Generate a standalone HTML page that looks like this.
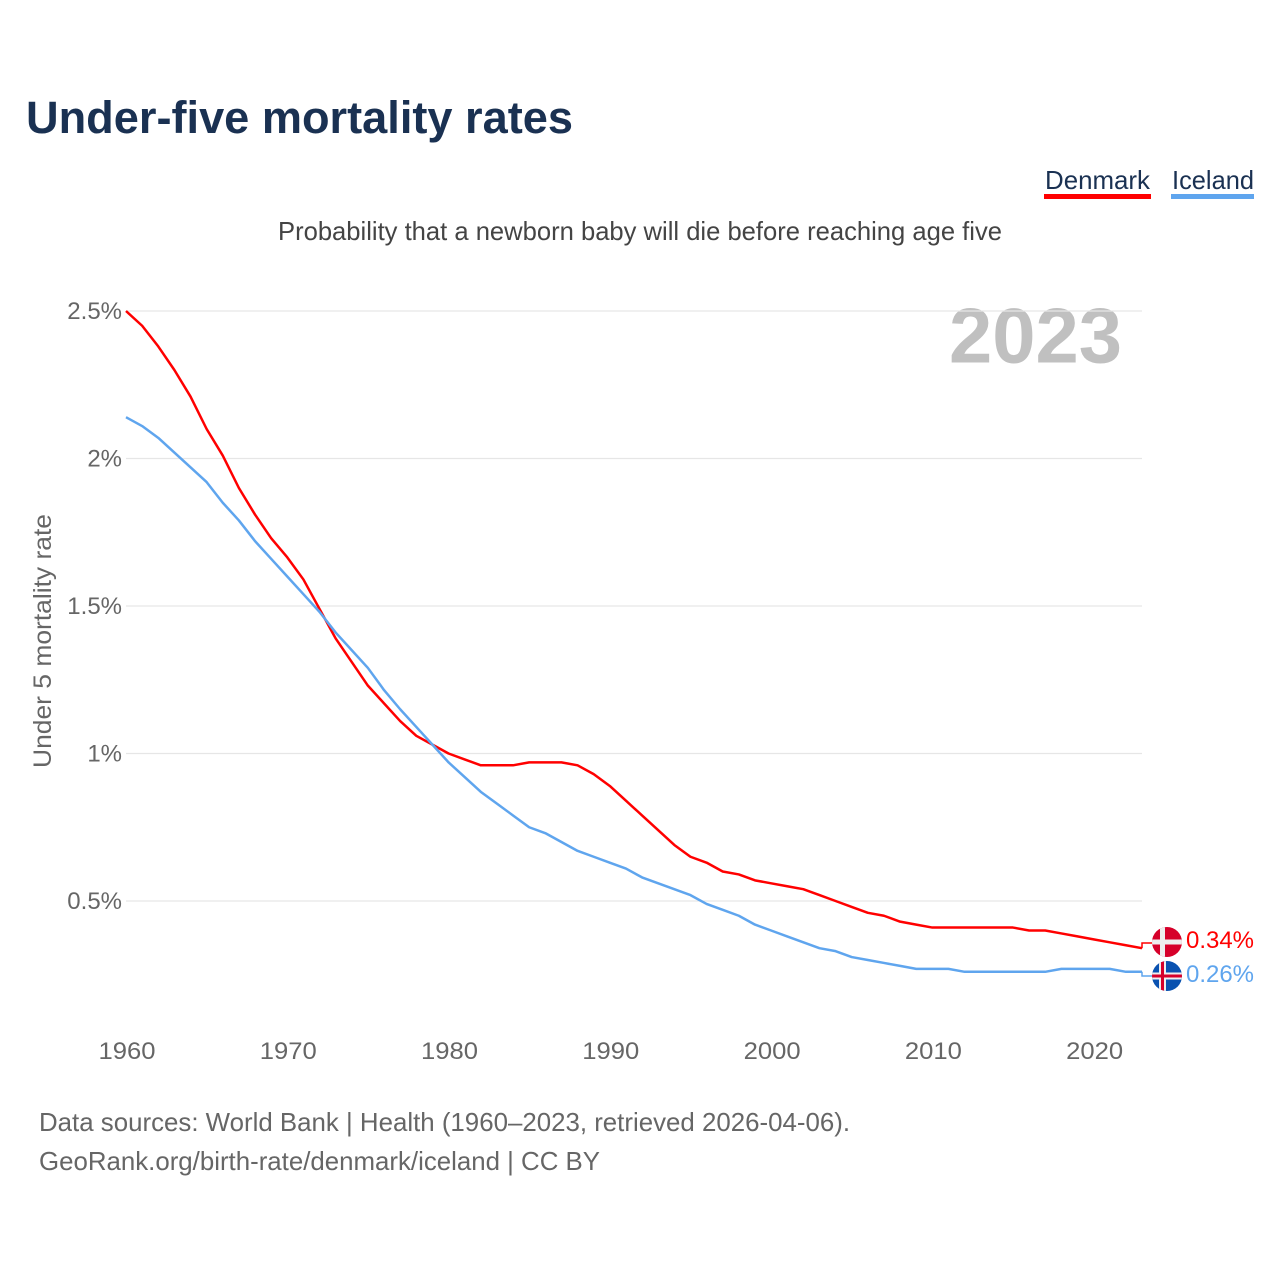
<!DOCTYPE html>
<html lang="en">
<head>
<meta charset="utf-8">
<title>Under-five mortality rates</title>
<style>
html,body{margin:0;padding:0;background:#fff;}
body{width:1280px;height:1280px;overflow:hidden;}
svg{display:block;font-family:"Liberation Sans",sans-serif;}
</style>
</head>
<body>
<svg id="chart" width="1280" height="1280" viewBox="0 0 1280 1280" xmlns="http://www.w3.org/2000/svg">
  <defs>
    <clipPath id="clip-dk"><circle cx="1167" cy="942" r="15"/></clipPath>
    <clipPath id="clip-is"><circle cx="1167" cy="976" r="15"/></clipPath>
  </defs>
  <text x="26" y="133" font-size="45" font-weight="700" fill="#1a3152" textLength="547" lengthAdjust="spacingAndGlyphs">Under-five mortality rates</text>
  <text x="278" y="240" font-size="26" fill="#444444" textLength="724" lengthAdjust="spacingAndGlyphs">Probability that a newborn baby will die before reaching age five</text>

  <g>
    <text x="1045" y="189" font-size="26" fill="#1a3152" textLength="105" lengthAdjust="spacingAndGlyphs">Denmark</text>
    <rect x="1044" y="194" width="107" height="5" fill="#ff0000"/>
  </g>
  <g>
    <text x="1172" y="189" font-size="26" fill="#1a3152" textLength="82" lengthAdjust="spacingAndGlyphs">Iceland</text>
    <rect x="1171" y="194" width="83" height="5" fill="#5fa5ee"/>
  </g>

  <text x="949" y="362.500" font-size="78" font-weight="700" fill="#c0c0c0" textLength="173" lengthAdjust="spacingAndGlyphs">2023</text>
  <text transform="translate(51,768) rotate(-90)" font-size="25" fill="#666666" textLength="254" lengthAdjust="spacingAndGlyphs">Under 5 mortality rate</text>

  <g id="grid"></g>
  <g id="y-ticks"></g>
  <g id="x-ticks"></g>
  <g id="series"></g>

  <g clip-path="url(#clip-dk)">
    <rect x="1152" y="927" width="30" height="30" fill="#d6002a"/>
    <rect x="1160" y="927" width="5" height="30" fill="#eeeeee"/>
    <rect x="1152" y="939.500" width="30" height="5" fill="#eeeeee"/>
  </g>
  <g clip-path="url(#clip-is)">
    <rect x="1152" y="961" width="30" height="30" fill="#0a52b0"/>
    <rect x="1159" y="961" width="7" height="30" fill="#eeeeee"/>
    <rect x="1152" y="972.500" width="30" height="7" fill="#eeeeee"/>
    <rect x="1161" y="961" width="3" height="30" fill="#d6002a"/>
    <rect x="1152" y="974.500" width="30" height="3" fill="#d6002a"/>
  </g>
  <text x="1186" y="948" font-size="24.500" fill="#ff0000" textLength="68" lengthAdjust="spacingAndGlyphs">0.34%</text>
  <text x="1186" y="982" font-size="24.500" fill="#5fa5ee" textLength="68" lengthAdjust="spacingAndGlyphs">0.26%</text>

  <text x="39" y="1131" font-size="26" fill="#666666" textLength="811" lengthAdjust="spacingAndGlyphs">Data sources: World Bank | Health (1960–2023, retrieved 2026-04-06).</text>
  <text x="39" y="1170" font-size="26" fill="#666666" textLength="561" lengthAdjust="spacingAndGlyphs">GeoRank.org/birth-rate/denmark/iceland | CC BY</text>
</svg>
<script>
const startYear = 1960;
const denmarkValues = [2.5,2.45,2.38,2.3,2.21,2.1,2.01,1.9,1.81,1.73,1.665,1.59,1.49,1.39,1.31,1.23,1.17,1.11,1.06,1.03,1.0,0.98,0.96,0.96,0.96,0.97,0.97,0.97,0.96,0.93,0.89,0.84,0.79,0.74,0.69,0.65,0.63,0.6,0.59,0.57,0.56,0.55,0.54,0.52,0.5,0.48,0.46,0.45,0.43,0.42,0.41,0.41,0.41,0.41,0.41,0.41,0.4,0.4,0.39,0.38,0.37,0.36,0.35,0.34];
const icelandValues = [2.14,2.11,2.07,2.02,1.97,1.92,1.85,1.79,1.72,1.66,1.6,1.54,1.48,1.41,1.35,1.29,1.215,1.15,1.09,1.03,0.97,0.92,0.87,0.83,0.79,0.75,0.73,0.7,0.67,0.65,0.63,0.61,0.58,0.56,0.54,0.52,0.49,0.47,0.45,0.42,0.4,0.38,0.36,0.34,0.33,0.31,0.3,0.29,0.28,0.27,0.27,0.27,0.26,0.26,0.26,0.26,0.26,0.26,0.27,0.27,0.27,0.27,0.26,0.26];
const yTickValues = [0.5,1,1.5,2,2.5];
const yTickLabels = ["0.5%","1%","1.5%","2%","2.5%"];
const xTickYears = [1960,1970,1980,1990,2000,2010,2020];

const NS = "http://www.w3.org/2000/svg";
function xScale(year){ return 126 + (year - 1960) * 16.127; }
function yScale(v){ return 901 - (v - 0.5) * 295; }

const gridGroup = document.getElementById("grid");
const yGroup = document.getElementById("y-ticks");
const xGroup = document.getElementById("x-ticks");
const seriesGroup = document.getElementById("series");

yTickValues.forEach(function(v, i){
  const line = document.createElementNS(NS, "line");
  
  
  line.setAttribute("x1", 126);
  line.setAttribute("x2", 1142);
  line.setAttribute("y1", yScale(v));
  line.setAttribute("y2", yScale(v));
  line.setAttribute("stroke", "#e6e6e6");
  line.setAttribute("stroke-width", "1.2");
  gridGroup.appendChild(line);

  const t = document.createElementNS(NS, "text");
  
  
  t.setAttribute("x", 122);
  t.setAttribute("y", yScale(v) + 8);
  t.setAttribute("text-anchor", "end");
  t.setAttribute("font-size", "24");
  t.setAttribute("fill", "#666666");
  t.textContent = yTickLabels[i];
  yGroup.appendChild(t);
});

xTickYears.forEach(function(year){
  const t = document.createElementNS(NS, "text");
  
  
  t.setAttribute("x", xScale(year) - 27.5);
  t.setAttribute("y", 1059);
  t.setAttribute("font-size", "24.500");
  t.setAttribute("fill", "#666666");
  t.setAttribute("textLength", "57");
  t.setAttribute("lengthAdjust", "spacingAndGlyphs");
  t.textContent = String(year);
  xGroup.appendChild(t);
});

function linePoints(values){
  return values.map(function(v, i){
    return xScale(startYear + i).toFixed(2) + "," + yScale(v).toFixed(2);
  });
}

const dkPts = linePoints(denmarkValues);
const isPts = linePoints(icelandValues);
const dkEndY = yScale(denmarkValues[denmarkValues.length - 1]);
const isEndY = yScale(icelandValues[icelandValues.length - 1]);
const lastX = xScale(startYear + denmarkValues.length - 1);

const dkLine = document.createElementNS(NS, "polyline");


dkLine.setAttribute("points", dkPts.join(" "));
dkLine.setAttribute("fill", "none");
dkLine.setAttribute("stroke", "#ff0000");
dkLine.setAttribute("stroke-width", "2.5");
dkLine.setAttribute("stroke-linejoin", "round");
seriesGroup.appendChild(dkLine);

const isLine = document.createElementNS(NS, "polyline");


isLine.setAttribute("points", isPts.join(" "));
isLine.setAttribute("fill", "none");
isLine.setAttribute("stroke", "#5fa5ee");
isLine.setAttribute("stroke-width", "2.5");
isLine.setAttribute("stroke-linejoin", "round");
seriesGroup.appendChild(isLine);

const dkConn = document.createElementNS(NS, "polyline");


dkConn.setAttribute("points", lastX + "," + dkEndY + " " + lastX + ",943 1152,943");
dkConn.setAttribute("fill", "none");
dkConn.setAttribute("stroke", "#ff0000");
dkConn.setAttribute("stroke-width", "1.5");
seriesGroup.appendChild(dkConn);

const isConn = document.createElementNS(NS, "polyline");


isConn.setAttribute("points", lastX + "," + isEndY + " " + lastX + ",976 1152,976");
isConn.setAttribute("fill", "none");
isConn.setAttribute("stroke", "#5fa5ee");
isConn.setAttribute("stroke-width", "1.5");
seriesGroup.appendChild(isConn);
</script>
</body>
</html>
